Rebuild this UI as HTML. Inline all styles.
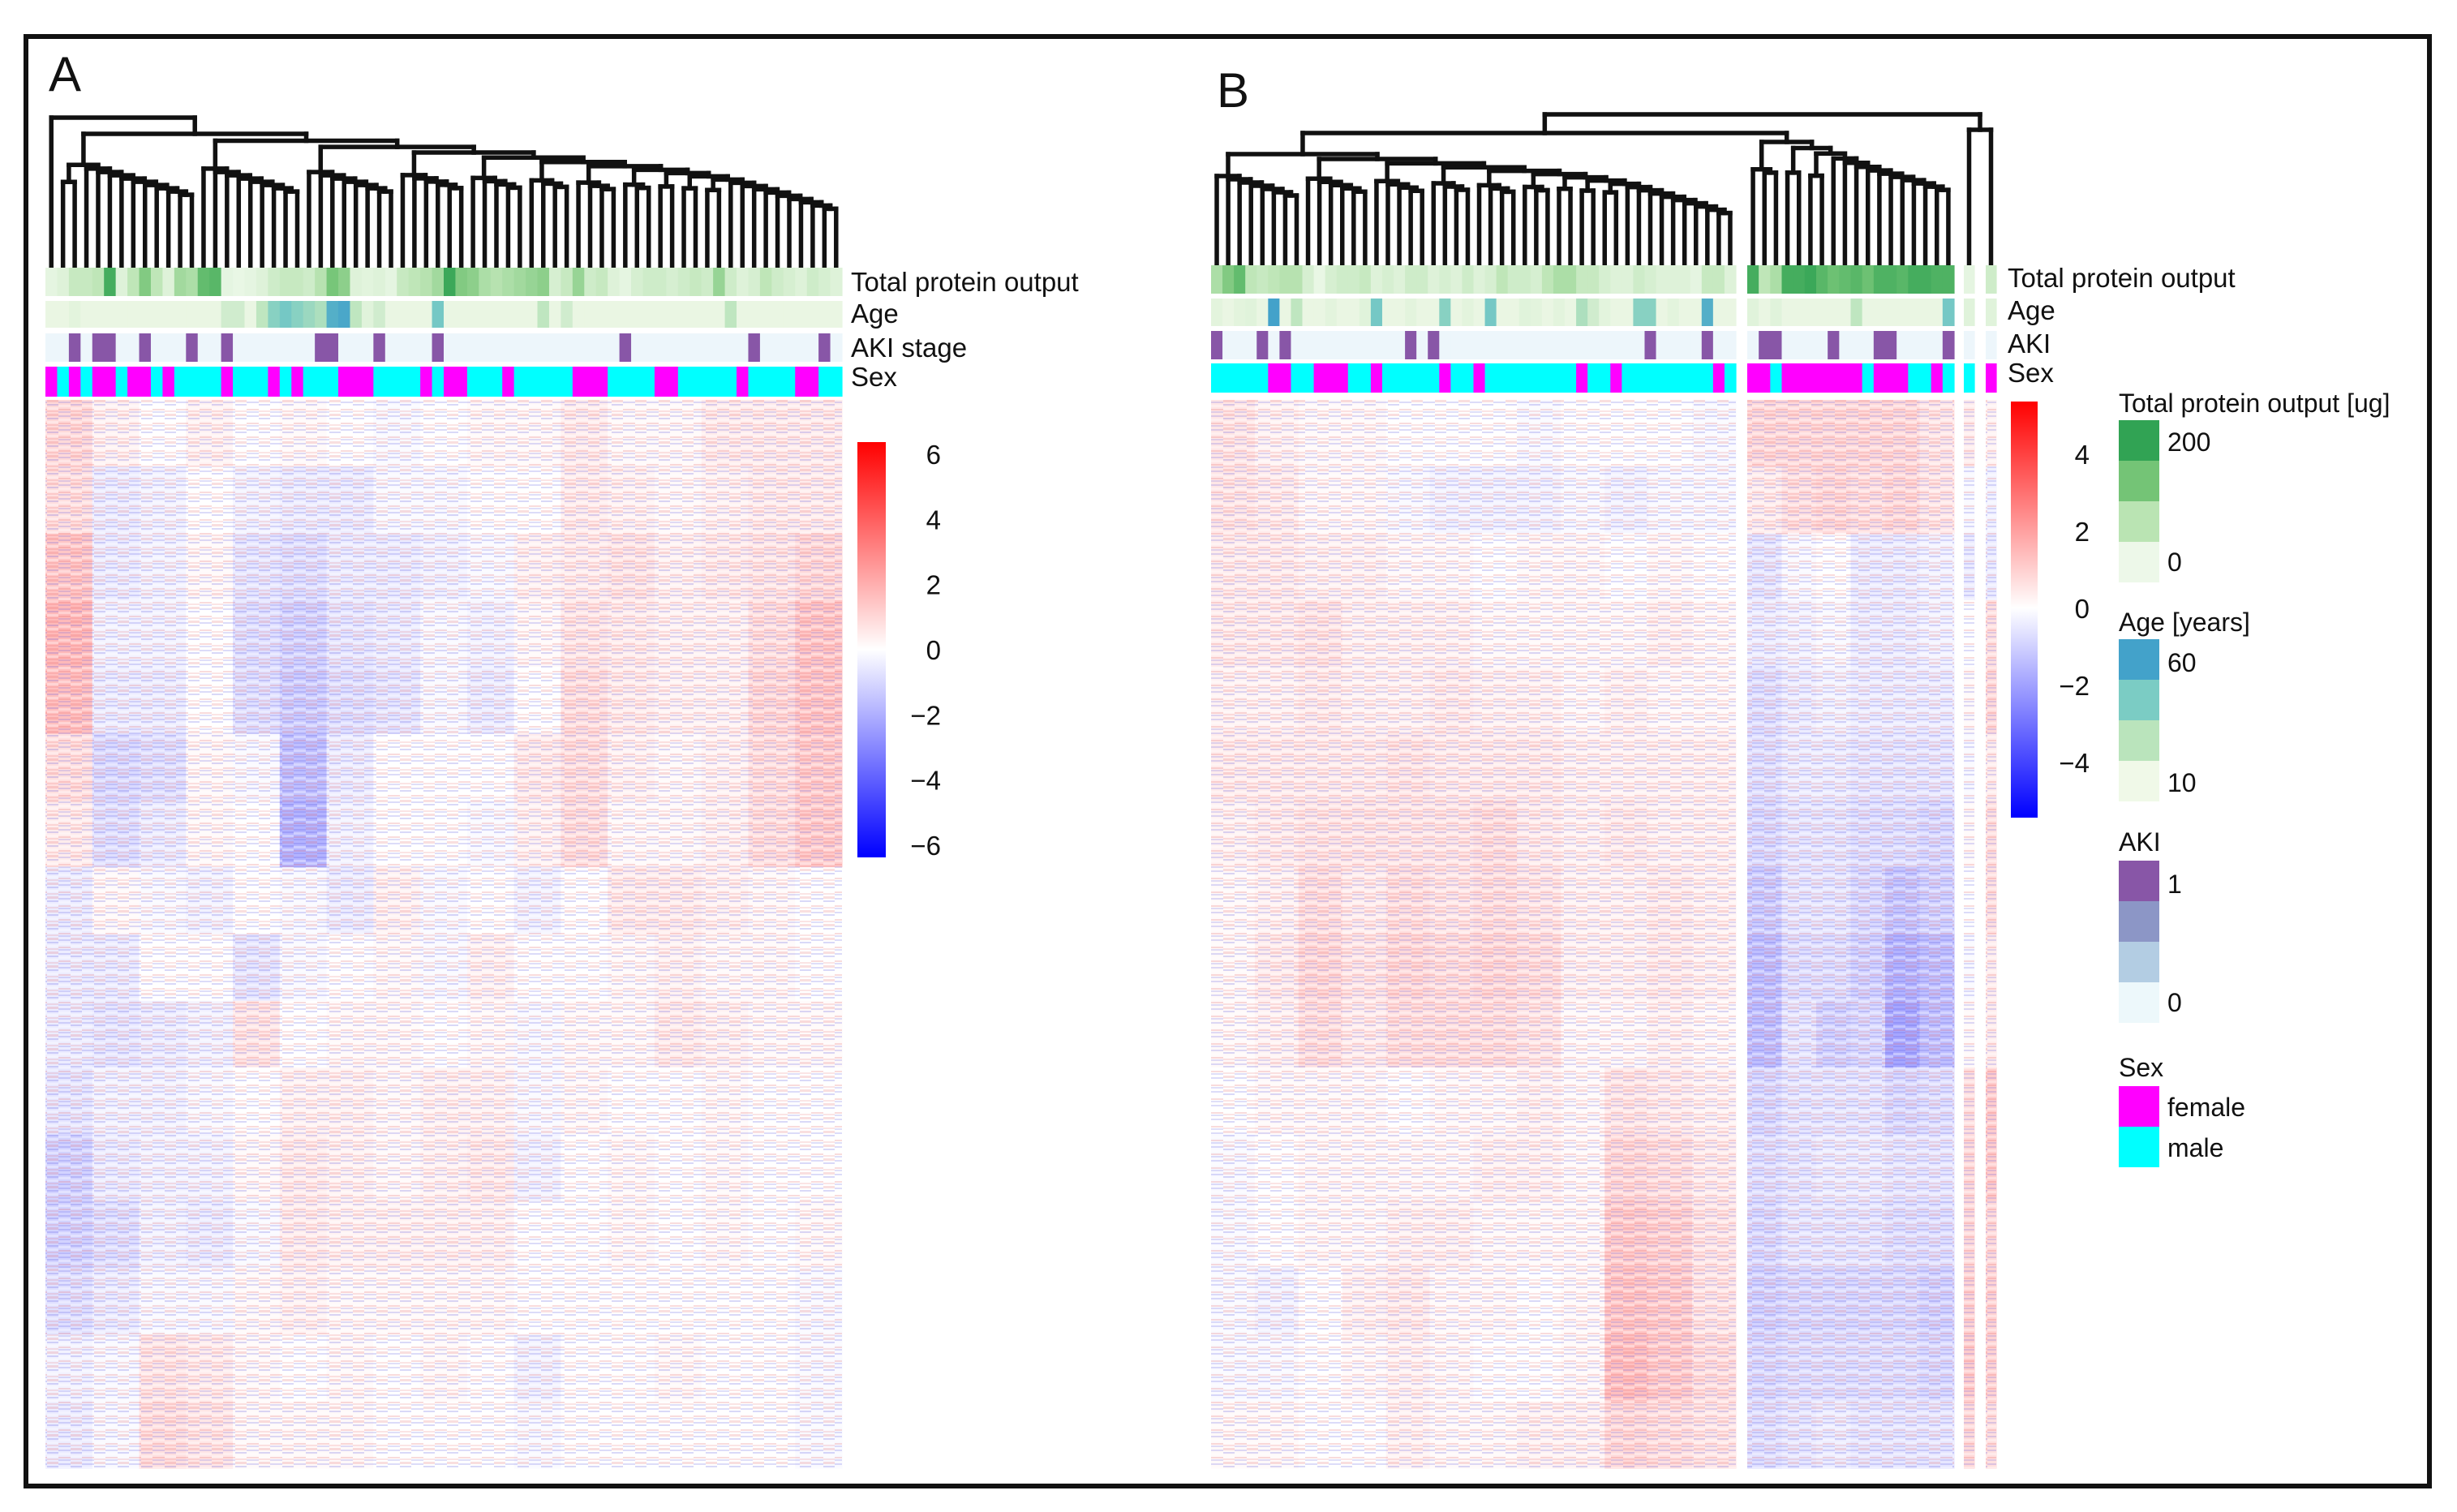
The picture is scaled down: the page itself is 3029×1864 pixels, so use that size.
<!DOCTYPE html>
<html><head><meta charset="utf-8"><style>
html,body{margin:0;padding:0;background:#fff;}
svg{display:block;}
text{font-family:"Liberation Sans",Arial,sans-serif;fill:#111;}
</style></head><body>
<svg id="fig" width="3029" height="1864" viewBox="0 0 3029 1864" xmlns="http://www.w3.org/2000/svg">
<defs>
<pattern id="tex" width="29" height="17" patternUnits="userSpaceOnUse">
<rect x="0" y="0" width="14" height="3" fill="#e05050" opacity="0.18"/>
<rect x="14" y="2" width="15" height="2" fill="#5050e0" opacity="0.2"/>
<rect x="0" y="5" width="14" height="2" fill="#5050e0" opacity="0.22"/>
<rect x="14" y="6" width="15" height="3" fill="#ffffff" opacity="0.35"/>
<rect x="0" y="9" width="14" height="3" fill="#ffffff" opacity="0.35"/>
<rect x="14" y="11" width="15" height="2" fill="#e05050" opacity="0.2"/>
<rect x="0" y="13" width="14" height="2" fill="#e05050" opacity="0.15"/>
<rect x="14" y="14" width="15" height="2" fill="#5050e0" opacity="0.18"/>
</pattern>
<linearGradient id="cbarA" x1="0" y1="0" x2="0" y2="1">
<stop offset="0" stop-color="#ff0000"/><stop offset="0.5" stop-color="#ffffff"/><stop offset="1" stop-color="#0000ff"/>
</linearGradient>
<linearGradient id="cbarB" x1="0" y1="0" x2="0" y2="1">
<stop offset="0" stop-color="#ff0000"/><stop offset="0.497" stop-color="#ffffff"/><stop offset="1" stop-color="#0000ff"/>
</linearGradient>
</defs>
<rect x="0" y="0" width="3029" height="1864" fill="#fff"/>
<rect x="32" y="45" width="2963" height="1787" fill="none" stroke="#111" stroke-width="6"/>
<text x="60" y="112" font-size="60">A</text>
<text x="1500" y="132" font-size="60">B</text>
<g id="layer"></g>
</svg>
<script>
// ---------- data ----------
const sexA = ['f','m','f','m','f','f','m','f','f','m','f','m','m','m','m','f','m','m','m','f','m','f','m','m','m','f','f','f','m','m','m','m','f','m','f','f','m','m','m','f','m','m','m','m','m','f','f','f','m','m','m','m','f','f','m','m','m','m','m','f','m','m','m','m','f','f','m','m'];
const akiA = [0,0,1,0,1,1,0,0,1,0,0,0,1,0,0,1,0,0,0,0,0,0,0,1,1,0,0,0,1,0,0,0,0,1,0,0,0,0,0,0,0,0,0,0,0,0,0,0,0,1,0,0,0,0,0,0,0,0,0,0,1,0,0,0,0,0,1,0];
const proteinA = [10,20,50,50,60,180,20,60,120,60,20,90,80,150,160,10,5,10,20,40,50,50,40,70,130,110,20,15,20,10,50,60,70,90,190,120,110,80,70,80,90,100,110,30,50,100,40,50,20,10,30,40,40,30,40,50,40,100,40,20,30,60,40,30,20,40,30,20];
const ageA = [12,12,14,12,12,12,12,12,12,12,12,12,12,12,12,20,20,12,25,40,45,40,35,30,55,58,25,15,20,12,12,12,12,45,12,12,12,12,12,12,12,12,25,12,20,12,12,12,12,12,12,12,12,12,12,12,12,12,25,12,12,12,12,12,12,12,12,12];
const sexBL = ['m','m','m','m','m','f','f','m','m','f','f','f','m','m','f','m','m','m','m','m','f','m','m','f','m','m','m','m','m','m','m','m','f','m','m','f','m','m','m','m','m','m','m','m','f','m'];
const akiBL = [1,0,0,0,1,0,1,0,0,0,0,0,0,0,0,0,0,1,0,1,0,0,0,0,0,0,0,0,0,0,0,0,0,0,0,0,0,0,1,0,0,0,0,1,0,0];
const proteinBL = [80,120,150,60,50,60,70,70,30,5,30,40,40,50,20,30,20,40,40,20,30,20,40,20,30,60,40,40,30,60,80,80,50,50,30,20,20,40,30,20,20,20,10,50,50,20];
const ageBL = [14,12,14,15,12,60,12,25,12,12,14,12,12,15,45,12,12,14,12,12,40,12,14,12,45,12,12,15,14,12,14,12,30,20,14,12,12,40,40,12,14,12,12,55,12,12];
const sexBR = ['f','f','m','f','f','f','f','f','f','f','m','f','f','f','m','m','f','m'];
const akiBR = [0,1,1,0,0,0,0,1,0,0,0,1,1,0,0,0,0,1];
const proteinBR = [180,60,80,180,180,190,160,140,150,160,140,170,170,160,180,180,170,170];
const ageBR = [15,12,15,12,12,12,12,12,12,25,12,12,12,12,12,12,12,45];
const sexBS = ['m','f'];
const akiBS = [0,0];
const proteinBS = [10,40];
const ageBS = [15,15];
const heatA = [
[.6,.2,0,.2,0,.1,0,-.1,0,.1,.1,.3,.1,.1,.3,.3,.3],
[.5,-.3,-.2,0,-.2,-.3,-.3,-.1,-.1,0,0,.3,.2,.1,.2,.3,.3],
[.9,-.3,-.2,.1,-.4,-.5,-.3,-.3,-.2,-.1,.2,.3,.4,.2,.3,.4,.6],
[1.1,-.2,-.2,0,-.5,-.7,-.4,-.3,-.1,-.2,.1,.4,.3,.2,.2,.5,.9],
[1.0,-.3,-.3,0,-.5,-.8,-.5,-.4,-.1,-.3,0,.5,.3,.2,.2,.6,.9],
[.5,-.6,-.5,.1,-.1,-1.0,-.3,0,0,0,.3,.5,.2,.1,.2,.5,.8],
[.3,-.5,-.3,.1,0,-1.2,-.2,0,0,-.1,.2,.5,.1,.1,.2,.5,.8],
[-.3,.1,-.1,-.2,0,-.1,-.3,.2,-.1,0,-.2,0,.3,.3,.2,.1,0],
[-.3,-.3,0,0,-.4,-.1,0,.1,-.1,.2,0,0,.1,.2,.1,.1,0],
[-.3,-.4,-.3,-.2,.4,0,.1,.1,0,.1,-.1,.1,.1,.3,.2,.1,.1],
[-.4,-.2,-.2,-.1,0,.2,.2,.1,.2,.2,-.1,.1,0,0,.1,0,0],
[-.7,-.3,-.2,-.2,.1,.3,.2,.1,.2,.3,-.2,0,.1,0,.1,0,0],
[-.7,-.5,-.2,-.3,-.1,.3,.2,.2,.2,.2,0,0,.1,0,.1,0,.1],
[-.5,-.3,-.1,-.1,.1,.2,.1,.1,.1,.1,0,0,0,0,0,0,-.1],
[-.2,-.1,.4,.3,.1,0,.1,0,.1,0,-.2,0,0,.1,0,0,-.1],
[-.3,-.1,.5,.4,.1,.1,.1,0,0,0,-.1,0,0,0,0,0,-.1]];
const heatBL = [
[.4,.2,.1,.1,0,0,0,-.1,0,0,0,-.1],
[.4,.3,.1,.1,-.1,-.2,-.2,-.2,-.1,-.2,-.1,-.1],
[.3,.3,.2,.2,.1,.1,0,.1,.1,0,.1,0],
[.3,.3,.4,.2,.2,.2,.1,.1,.1,.1,.2,.1],
[.2,.2,.3,.2,.2,.3,.2,.2,.1,.2,.1,.1],
[.3,.3,.3,.3,.4,.3,.3,.3,.2,.2,.2,.2],
[.2,.3,.4,.4,.4,.4,.5,.3,.2,.3,.2,.2],
[.1,.2,.5,.3,.5,.4,.5,.4,.2,.2,.3,.2],
[.1,.3,.6,.4,.6,.5,.6,.5,.2,.2,.3,.2],
[.1,.2,.5,.3,.5,.5,.5,.4,.1,.1,.2,.1],
[0,.1,.1,.1,0,.1,.1,.2,.1,.4,.3,.2],
[-.1,0,.1,.1,.1,.1,.2,.2,.1,.6,.5,.3],
[-.1,0,.1,.1,.2,.2,.1,.1,.1,.8,.7,.4],
[-.1,-.2,0,.2,.3,.1,.1,0,.1,.9,.8,.4],
[-.1,-.1,0,.1,.2,.1,0,0,.1,1.0,.8,.5],
[.1,.1,0,0,.2,.1,.1,.2,.2,.6,.5,.4]];
const heatBR = [
[.6,.6,.6,.6,.6,.4],[.3,.5,.6,.5,.6,.4],[-.4,-.1,0,-.3,-.3,-.2],[-.3,-.2,-.1,-.3,-.3,-.2],
[-.5,-.3,-.2,-.3,-.3,-.3],[-.5,-.3,-.3,-.4,-.4,-.4],[-.6,-.4,-.4,-.5,-.5,-.6],[-.8,-.4,-.4,-.6,-.9,-.7],
[-1.0,-.5,-.5,-.7,-1.2,-1.0],[-1.0,-.4,-.7,-.6,-1.4,-1.0],[-.6,-.4,-.4,-.4,-.6,-.5],[-.5,-.4,-.3,-.3,-.4,-.4],
[-.6,-.4,-.4,-.4,-.5,-.5],[-.7,-.6,-.6,-.6,-.6,-.7],[-.6,-.5,-.5,-.5,-.5,-.6],[-.5,-.4,-.3,-.4,-.4,-.4]];
const heatBS1 = [.3,-.1,-.3,0,.1,-.1,.1,0,-.1,.1,.5,.6,.6,.7,.8,.6];
const heatBS2 = [.2,-.2,-.3,.5,.6,.3,.5,.5,.3,.3,.8,.8,.6,.7,.7,.5];
const ticksA = [6,4,2,0,-2,-4,-6];
const ticksB = [4,2,0,-2,-4];

// ---------- helpers ----------
const NS='http://www.w3.org/2000/svg';
const layer=document.getElementById('layer');
function mk(tag,attrs,parent){const e=document.createElementNS(NS,tag);for(const k in attrs)e.setAttribute(k,attrs[k]);(parent||layer).appendChild(e);return e;}
function lerp(a,b,t){return a.map((v,i)=>Math.round(v+(b[i]-v)*t));}
function hex(h){return [1,3,5].map(i=>parseInt(h.substr(i,2),16));}
function ramp(stops,t){t=Math.max(0,Math.min(1,t));const n=stops.length-1;const i=Math.min(n-1,Math.floor(t*n));const c=lerp(hex(stops[i]),hex(stops[i+1]),t*n-i);return 'rgb('+c.join(',')+')';}
const greens=['#edf8e9','#bae4b3','#74c476','#31a354'];
const ages=['#f0f9e8','#bae4bc','#7bccc4','#43a2ca'];
function heatColor(v){const t=Math.max(-1,Math.min(1,v/4));if(t>=0){const c=lerp([255,255,255],[255,0,0],t);return 'rgb('+c.join(',')+')';}const c=lerp([255,255,255],[0,0,255],-t);return 'rgb('+c.join(',')+')';}
function xScale(x0,x1,n){return i=>x0+(x1-x0)*i/n;}

function tracks(x0,x1,sex,aki,prot,age,ys,g){
  const n=sex.length, xs=xScale(x0,x1,n), w=(x1-x0)/n;
  for(let i=0;i<n;i++){
    const r1=mk('rect',{x:xs(i),y:ys[0],width:w+0.6,height:ys[1]-ys[0],fill:ramp(greens,prot[i]/200)},g);
    
    
    const r2=mk('rect',{x:xs(i),y:ys[2],width:w+0.6,height:ys[3]-ys[2],fill:ramp(ages,(age[i]-10)/50)},g);
    
    
    const r3=mk('rect',{x:xs(i),y:ys[4],width:w+0.6,height:ys[5]-ys[4],fill:aki[i]?'#8856a7':'#edf6fb'},g);
    
    
    const r4=mk('rect',{x:xs(i),y:ys[6],width:w+0.6,height:ys[7]-ys[6],fill:sex[i]==='f'?'#ff00ff':'#00ffff'},g);
    
    
  }
}
function heat(x0,x1,y0,y1,grid,g){
  const rows=grid.length, cols=grid[0].length;
  const xs=xScale(x0,x1,cols), ys=xScale(y0,y1,rows);
  for(let r=0;r<rows;r++)for(let c=0;c<cols;c++){
    const e=mk('rect',{x:xs(c),y:ys(r),width:(x1-x0)/cols+0.6,height:(y1-y0)/rows+0.6,fill:heatColor(grid[r][c])},g);
    
    
  }
  const t=mk('rect',{x:x0,y:y0,width:x1-x0,height:y1-y0,fill:'url(#tex)'},g);
  
  
}
const BOTTOM=328;
function line(x1,y1,x2,y2,g){mk('line',{x1,y1,x2,y2,stroke:'#111','stroke-width':5.5,'stroke-linecap':'square'},g);}
// chained dendrogram: small left cluster splits off, right branch steps down slowly
function node(xs,y,g){
  if(xs.length===1)return xs[0];
  const k=Math.max(1,Math.min(xs.length-1,Math.floor(xs.length*0.18)));
  const parts=[xs.slice(0,k),xs.slice(k)];
  const ys=[y+Math.max(6,(250-y)*0.45), y+Math.max(4,(250-y)*0.1)];
  const cx=parts.map((p,j)=>{
    if(p.length===1){line(p[0],y,p[0],BOTTOM,g);return p[0];}
    const c=node(p,ys[j],g);line(c,y,c,ys[j],g);return c;});
  line(cx[0],y,cx[1],y,g);
  return (cx[0]+cx[1])/2;
}
function centers(x0,x1,n){const s=xScale(x0,x1,n);return Array.from({length:n},(_,i)=>s(i)+(x1-x0)/n/2);}

// ---------- panel A ----------
const gA=mk('g',{});
const dA=mk('g',{},gA);
{const xs=centers(56,1038,68);const l=xs[0];line(l,145,l,BOTTOM,dA);const r=node(xs.slice(1),165,dA);
 line(r,145,r,165,dA);line(l,145,r,145,dA);}
const tA=mk('g',{},gA);
tracks(56,1038,sexA,akiA,proteinA,ageA,[330,365,371,404,411,446,452,489],tA);
const hA=mk('g',{},gA);
heat(56,1038,493,1810,heatA,hA);
[['Total protein output',365],['Age',404],['AKI stage',446],['Sex',482]].forEach(([s,y])=>{
  const t=mk('text',{x:1049,y:y-6,'font-size':33},gA);t.textContent=s;
  
  });
const cbA=mk('rect',{x:1057,y:545,width:35,height:512,fill:'url(#cbarA)'},gA);

ticksA.forEach(v=>{const y=801-v*(801-560)/6;
  const t=mk('text',{x:1160,y:y+12,'font-size':33,'text-anchor':'end'},gA);t.textContent=v<0?'\u2212'+(-v):String(v);
  
  });

// ---------- panel B ----------
const gB=mk('g',{});
const dB=mk('g',{},gB);
{const L=node(centers(1493,2140,46),190,dB);const R=node(centers(2154,2409,18),175,dB);
 line(L,164,L,190,dB);line(R,164,R,175,dB);line(L,164,R,164,dB);
 const P=(L+R)/2;const sx=[2427.5,2454.5];line(sx[0],160,sx[0],BOTTOM,dB);line(sx[1],160,sx[1],BOTTOM,dB);line(sx[0],160,sx[1],160,dB);
 const S=(sx[0]+sx[1])/2;line(P,141,P,164,dB);line(S,141,S,160,dB);line(P,141,S,141,dB);}
const tB=mk('g',{},gB);
const ysB=[327,362,368,402,408,443,448,484];
tracks(1493,2140,sexBL,akiBL,proteinBL,ageBL,ysB,tB);
tracks(2154,2409,sexBR,akiBR,proteinBR,ageBR,ysB,tB);
tracks(2421,2434,[sexBS[0]],[akiBS[0]],[proteinBS[0]],[ageBS[0]],ysB,tB);
tracks(2448,2461,[sexBS[1]],[akiBS[1]],[proteinBS[1]],[ageBS[1]],ysB,tB);
const hB=mk('g',{},gB);
heat(1493,2140,493,1810,heatBL,hB);
heat(2154,2409,493,1810,heatBR,hB);
heat(2421,2434,493,1810,heatBS1.map(v=>[v]),hB);
heat(2448,2461,493,1810,heatBS2.map(v=>[v]),hB);
[['Total protein output',360],['Age',400],['AKI',441],['Sex',477]].forEach(([s,y])=>{
  const t=mk('text',{x:2475,y:y-6,'font-size':33},gB);t.textContent=s;
  
  });
const cbB=mk('rect',{x:2479,y:495,width:33,height:513,fill:'url(#cbarB)'},gB);

ticksB.forEach(v=>{const y=750-v*(750-560)/4;
  const t=mk('text',{x:2576,y:y+12,'font-size':33,'text-anchor':'end'},gB);t.textContent=v<0?'\u2212'+(-v):String(v);
  
  });

// ---------- legends ----------
const gL=mk('g',{});
function legend(title,ty,colors,sy,labels){
  const t=mk('text',{x:2612,y:ty,'font-size':32},gL);t.textContent=title;
  
  
  colors.forEach((c,i)=>{const r=mk('rect',{x:2612,y:sy+i*50,width:50,height:50,fill:c},gL);
    
    });
  labels.forEach(([s,y])=>{const l=mk('text',{x:2672,y:y,'font-size':32},gL);l.textContent=s;
    
    });
}
legend('Total protein output [ug]',508,['#31a354','#74c476','#bae4b3','#edf8e9'],518,[['200',556],['0',704]]);
legend('Age [years]',778,['#43a2ca','#7bccc4','#bae4bc','#f0f9e8'],788,[['60',828],['10',976]]);
legend('AKI',1049,['#8856a7','#8c96c6','#b3cde3','#edf8fb'],1061,[['1',1101],['0',1247]]);
legend('Sex',1327,['#ff00ff','#00ffff'],1339,[['female',1376],['male',1426]]);
</script>
</body></html>
